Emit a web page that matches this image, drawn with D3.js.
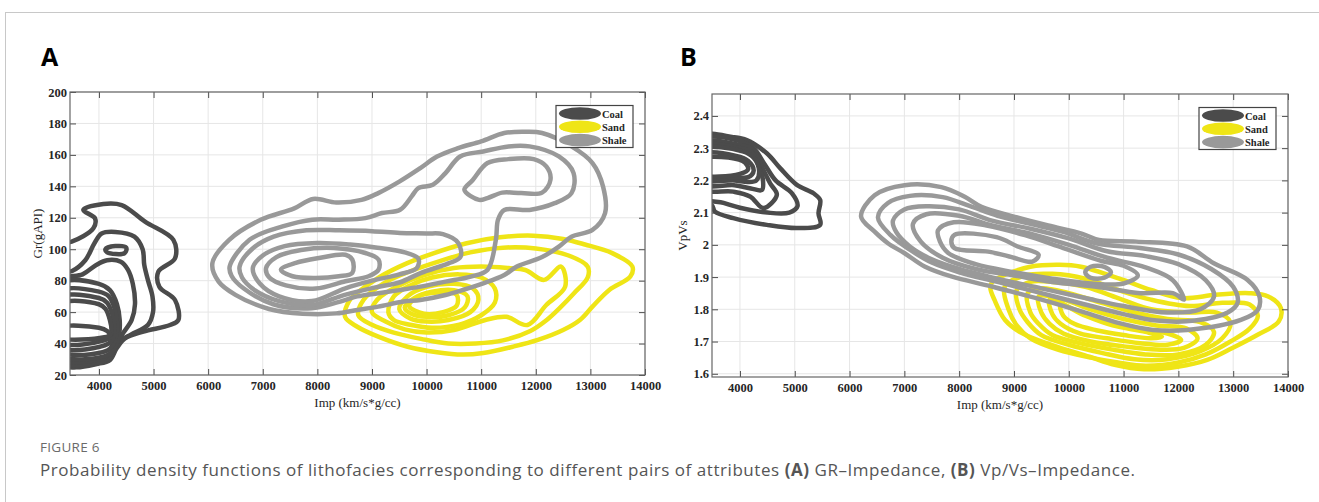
<!DOCTYPE html>
<html>
<head>
<meta charset="utf-8">
<script src="https://cdn.jsdelivr.net/npm/d3@7"></script>
<style>
  body { margin: 0; background: #fff; }
  .tick text { font-family: "Liberation Serif", serif; font-weight: bold; font-size: 12.5px; fill: #262626; }
</style>
</head>
<body>
<svg id="fig" width="1319" height="502"></svg>
<script>
// ---- data ----
const facies = ["Coal", "Sand", "Shale"]
const xTicks = [4000, 5000, 6000, 7000, 8000, 9000, 10000, 11000, 12000, 13000, 14000]
const yTicksA = [20, 40, 60, 80, 100, 120, 140, 160, 180, 200]
const yTicksB = [1.6, 1.7, 1.8, 1.9, 2.0, 2.1, 2.2, 2.3, 2.4]

// panel A: Impedance vs GR, each ring is a list of [imp, gr]
const coalA = [
  [[3300,104],[3501,104.8],[3898,113.3],[3928,119.6],[3714,125],[4081,128.8],[4416,128.1],[4844,117.5],[5363,105.9],[5393,94.2],[5088,85.7],[5106,76.2],[5393,67.7],[5454,55],[5302,51.8],[4814,47.6],[4477,43.3],[4325,37],[4203,29.6],[4020,27.4],[3300,27.4]],
  [[3300,85],[3500,86],[3750,93],[3920,104],[4050,110],[4300,111],[4650,108],[4800,100],[4830,90],[4900,80],[4980,70],[4990,60],[4900,52],[4600,46],[4400,42],[4280,36],[4150,30],[3300,29]],
  [[3300,80],[3700,84],[3950,90],[4150,93],[4400,92],[4530,87],[4620,78],[4660,65],[4600,55],[4450,47],[4350,42],[4250,35],[4100,31],[3300,31]],
  [[4120,100],[4300,102],[4500,101],[4470,97.5],[4150,98]],
  [[3300,78],[4000,78],[4200,74],[4330,65],[4380,55],[4370,46],[4300,38],[4180,33],[3300,33]],
  [[3300,73],[4000,73],[4180,70],[4290,62],[4330,53],[4320,46],[4250,39],[4150,35.5],[3300,35.5]],
  [[3300,69],[4000,69],[4150,66],[4250,58],[4280,50],[4260,44],[4180,40],[3300,38]],
  [[3300,65],[4000,65],[4120,62],[4200,55],[4230,48],[4200,44],[4100,42],[3300,41]],
  [[3300,50],[4000,50],[4150,48],[4200,45.5],[4100,44],[3300,44]]
]
const sandA = [
  [[8507,57],[8580,67],[8721,72],[9148,82.5],[9636,91],[10124,97.4],[10734,103.8],[11345,107.6],[11955,108.6],[12500,106.5],[12900,103],[13400,97.5],[13769,89],[13731,82.6],[13346,74.1],[13038,63.5],[12808,55],[12500,48.6],[12038,42.3],[11577,38],[11038,34],[10654,33],[10192,34.5],[9654,38],[9115,44.4],[8731,50.7]],
  [[8750,58],[8850,68],[9200,78],[9700,86],[10200,92],[10800,98],[11400,101],[12000,100.5],[12600,96],[12950,89],[12950,82],[12700,72],[12450,63],[12200,55],[11900,48],[11400,42],[10900,40],[10400,40],[9900,43],[9400,47],[9000,52]],
  [[9000,60],[9100,68],[9500,77],[10000,84],[10500,88],[11000,89],[11500,88],[11808,86.8],[12154,80.5],[12462,89],[12538,76.2],[12192,64.5],[11846,51.8],[11462,57],[11077,55],[10500,48.6],[10000,47],[9600,49],[9250,54]],
  [[9300,60],[9400,70],[9700,77],[10100,82],[10600,84],[11000,82],[11250,75],[11250,66],[11000,58],[10600,52],[10100,50],[9700,52],[9400,55]],
  [[9500,62],[9650,70],[10000,76],[10500,78],[10850,75],[10950,68],[10800,60],[10400,55],[10000,54],[9700,56]],
  [[9600,63],[9780,69],[10100,73],[10500,74],[10750,70],[10700,63],[10400,58],[10000,57],[9720,59]],
  [[9680,64],[9850,70],[10200,72.5],[10550,71],[10550,64],[10300,60],[9950,59]]
]
const shaleA = [
  [[6077,91],[6385,106],[6962,118.7],[7577,126],[7923,132],[8346,129.7],[8808,131.4],[9115,135.7],[9500,143],[9885,151.6],[10192,159],[10577,164.3],[11000,168.6],[11423,173.9],[11808,174.7],[12115,173.9],[12654,165.4],[13038,154.8],[13231,140],[13269,123],[13038,112.3],[12654,108],[12423,101.7],[12115,95],[11654,89],[11423,83.6],[11038,78.3],[10654,74],[10346,70.9],[9885,67.7],[9577,66.7],[9115,63.5],[8731,61.4],[8346,59.2],[7731,59],[7115,62],[6500,71],[6192,79.4]],
  [[6394,89],[6758,106],[7364,114.5],[7909,118.8],[8394,118.8],[8879,119.8],[9182,123],[9515,125.1],[9727,133.6],[9848,138.9],[10115,141],[10346,148.4],[10615,159],[11038,162.2],[11500,165.4],[11885,165.4],[12423,159],[12692,148.4],[12654,135.7],[12346,129.3],[11885,125],[11423,125],[11308,118.7],[11269,106],[11115,86.8],[10808,82.6],[10346,79.4],[9885,76.2],[9500,74],[9115,72],[8731,70],[8346,66],[7900,62.5],[7192,65],[6654,75],[6430,83]],
  [[10692,137.8],[10846,144],[11115,154.8],[11500,157.3],[11962,157.3],[12192,152.7],[12269,144.2],[12115,136],[11731,135.7],[11385,136],[11115,132.5],[10962,131.4]],
  [[6576,89],[6800,100],[7200,108],[7800,112],[8400,112],[9000,111.5],[9514,110.3],[10000,110],[10300,109.6],[10580,104],[10620,95],[10400,91],[9900,85],[9514,79],[9100,76],[8500,71],[7900,64.5],[7300,67],[6850,74],[6620,82]],
  [[6818,88],[7000,96],[7400,102],[8000,104],[8600,103],[9100,101],[9600,98],[9850,94],[9820,88],[9500,84],[9000,80],[8500,75],[7900,67],[7300,70],[6950,78]],
  [[7061,88],[7250,95],[7700,99.5],[8300,100.8],[8879,97.6],[9121,93.4],[9121,87],[8939,82.8],[8515,79.6],[7970,75],[7424,77],[7120,82]],
  [[7333,87],[7606,91.3],[8030,94.4],[8515,96.5],[8640,93.4],[8640,85],[8394,82.8],[7970,81.7],[7545,82.8]]
]

// panel B: Impedance vs Vp/Vs
const coalB = [
  [[3300,2.12],[3484,2.124],[3545,2.103],[3879,2.083],[4490,2.062],[5038,2.052],[5464,2.062],[5433,2.098],[5464,2.139],[5342,2.16],[5038,2.186],[4733,2.238],[4490,2.284],[4124,2.325],[3879,2.334],[3300,2.336]],
  [[3300,2.15],[3700,2.13],[4000,2.115],[4500,2.1],[4900,2.1],[5050,2.12],[4950,2.16],[4650,2.2],[4450,2.25],[4250,2.3],[4000,2.322],[3300,2.326]],
  [[3300,2.175],[3879,2.165],[4185,2.15],[4428,2.114],[4673,2.155],[4550,2.191],[4428,2.232],[4245,2.294],[4000,2.31],[3300,2.315]],
  [[3300,2.19],[3900,2.185],[4200,2.175],[4400,2.17],[4420,2.2],[4330,2.25],[4200,2.29],[3950,2.302],[3300,2.305]],
  [[3300,2.205],[3900,2.2],[4150,2.195],[4300,2.2],[4350,2.23],[4250,2.27],[4050,2.29],[3300,2.295]],
  [[3300,2.215],[3900,2.21],[4150,2.21],[4250,2.23],[4150,2.26],[3950,2.275],[3300,2.28]],
  [[3300,2.22],[4000,2.22],[4150,2.235],[4050,2.26],[3300,2.265]]
]
const sandB = [
  [[8569,1.866],[8645,1.829],[8837,1.767],[9145,1.726],[9684,1.69],[10375,1.653],[10836,1.628],[11373,1.614],[11987,1.622],[12525,1.643],[12986,1.68],[13446,1.721],[13830,1.762],[13869,1.804],[13639,1.84],[13293,1.85],[12679,1.845],[12065,1.835],[11500,1.86],[10990,1.891],[10222,1.932],[9834,1.938],[9298,1.932],[8914,1.912],[8609,1.886]],
  [[8830,1.87],[8900,1.8],[9050,1.75],[9300,1.71],[9800,1.675],[10400,1.65],[10900,1.635],[11400,1.625],[12000,1.635],[12500,1.66],[12950,1.7],[13300,1.74],[13450,1.78],[13300,1.815],[12800,1.82],[12200,1.81],[11500,1.83],[10900,1.86],[10300,1.895],[9700,1.91],[9200,1.905]],
  [[9050,1.86],[9100,1.8],[9250,1.76],[9500,1.72],[10000,1.69],[10600,1.665],[11200,1.645],[11800,1.645],[12400,1.67],[12800,1.71],[12950,1.76],[12700,1.79],[12200,1.79],[11500,1.8],[10900,1.835],[10300,1.87],[9700,1.885],[9300,1.885]],
  [[9250,1.85],[9300,1.79],[9450,1.755],[9700,1.72],[10200,1.695],[10800,1.675],[11400,1.66],[12000,1.66],[12500,1.69],[12650,1.73],[12400,1.76],[11800,1.77],[11200,1.79],[10600,1.82],[10000,1.85],[9500,1.865]],
  [[9450,1.84],[9500,1.79],[9650,1.755],[9900,1.725],[10400,1.7],[11000,1.685],[11600,1.675],[12100,1.68],[12350,1.71],[12150,1.74],[11600,1.75],[11000,1.77],[10400,1.8],[9900,1.83]],
  [[9650,1.83],[9700,1.785],[9850,1.755],[10200,1.725],[10700,1.71],[11300,1.695],[11800,1.69],[12050,1.705],[11800,1.725],[11200,1.74],[10600,1.765],[10100,1.8]],
  [[9850,1.815],[9900,1.78],[10100,1.755],[10500,1.735],[11000,1.72],[11500,1.71],[11700,1.715],[11400,1.73],[10800,1.75],[10300,1.78]]
]
const shaleB = [
  [[6210,2.088],[6457,2.154],[7005,2.185],[7675,2.179],[8101,2.149],[8406,2.118],[9015,2.087],[9624,2.06],[10233,2.035],[10552,2.015],[11230,2.01],[12156,1.995],[12647,1.943],[13263,1.891],[13479,1.84],[13448,1.798],[13140,1.767],[12156,1.736],[11538,1.736],[10921,1.757],[10300,1.79],[9502,1.83],[8588,1.871],[7857,1.902],[7370,1.933],[7005,1.974],[6700,2.005],[6457,2.041]],
  [[6518,2.085],[6700,2.13],[7100,2.152],[7700,2.148],[8200,2.12],[8700,2.09],[9300,2.065],[9900,2.04],[10500,2.005],[11300,1.99],[12000,1.97],[12600,1.925],[13000,1.87],[13080,1.82],[12900,1.79],[12300,1.765],[11600,1.765],[11000,1.785],[10300,1.815],[9500,1.85],[8700,1.885],[8000,1.915],[7500,1.945],[7100,1.985],[6750,2.03]],
  [[6792,2.075],[7000,2.11],[7400,2.12],[8000,2.11],[8600,2.075],[9300,2.05],[10000,2.02],[10700,1.98],[11400,1.965],[12000,1.94],[12500,1.89],[12650,1.84],[12400,1.8],[11800,1.79],[11000,1.81],[10300,1.835],[9500,1.865],[8700,1.895],[8000,1.925],[7500,1.955],[7100,1.995],[6850,2.04]],
  [[7157,2.065],[7400,2.095],[8000,2.09],[8600,2.06],[9300,2.035],[10000,2.0],[10700,1.96],[11400,1.93],[11900,1.89],[12100,1.83],[11900,1.85],[11300,1.85],[10500,1.87],[9700,1.885],[9000,1.905],[8300,1.925],[7700,1.96],[7300,2.01]],
  [[7614,2.045],[7900,2.07],[8500,2.06],[9200,2.03],[9900,1.99],[10600,1.95],[11000,1.935],[11260,1.905],[11000,1.88],[10400,1.88],[9700,1.895],[9000,1.915],[8300,1.94],[7800,1.975],[7650,2.01]],
  [[7857,2.01],[7914,2.031],[8682,2.024],[9066,1.995],[9450,1.969],[9336,1.948],[8914,1.964],[8530,1.979],[7914,1.99]],
  [[10300,1.915],[10400,1.932],[10650,1.932],[10770,1.915],[10650,1.898],[10400,1.898]]
]

const colors = { Coal: "#4b4b4b", Sand: "#efe516", Shale: "#999999" }

const svg = d3.select("#fig")

// card border
svg.append("rect")
  .attr("x", 5.5).attr("y", 12.5)
  .attr("width", 1340).attr("height", 600)
  .attr("fill", "none").attr("stroke", "#c8c8c8")

function draw_panel(cfg){
  const g = svg.append("g")
  const x = d3.scaleLinear().domain(cfg.xDomain).range([cfg.left, cfg.right])
  const y = d3.scaleLinear().domain(cfg.yDomain).range([cfg.bottom, cfg.top])

  // grid
  g.append("g").selectAll("line").data(xTicks).join("line")
    .attr("x1", d => x(d)).attr("x2", d => x(d))
    .attr("y1", cfg.top).attr("y2", cfg.bottom)
    .attr("stroke", "#e6e6e6")
  g.append("g").selectAll("line").data(cfg.yTicks).join("line")
    .attr("x1", cfg.left).attr("x2", cfg.right)
    .attr("y1", d => y(d)).attr("y2", d => y(d))
    .attr("stroke", "#e6e6e6")

  // contours
  const clipId = "clip" + cfg.name
  svg.append("clipPath").attr("id", clipId).append("rect")
    .attr("x", cfg.left).attr("y", cfg.top)
    .attr("width", cfg.right - cfg.left).attr("height", cfg.bottom - cfg.top)

  const line = d3.line()
    .x(d => x(d[0])).y(d => y(d[1]))
    .curve(d3.curveCatmullRomClosed.alpha(0.5))

  const cg = g.append("g").attr("clip-path", `url(#${clipId})`)
  cfg.layers.forEach(([name, rings]) => {
    cg.append("g").selectAll("path").data(rings).join("path")
      .attr("d", line)
      .attr("fill", "none")
      .attr("stroke", colors[name])
      .attr("stroke-width", 4.5)
      .attr("stroke-linejoin", "round")
  })

  // axes, ticks pointing inwards like matlab
  g.append("g").attr("transform", `translate(0,${cfg.bottom})`)
    .call(d3.axisBottom(x).tickValues(xTicks).tickSizeInner(-6).tickSizeOuter(0).tickPadding(6).tickFormat(d3.format("d")))
  g.append("g").attr("transform", `translate(0,${cfg.top})`)
    .call(d3.axisTop(x).tickValues(xTicks).tickSizeInner(-6).tickSizeOuter(0).tickFormat(""))
  g.append("g").attr("transform", `translate(${cfg.left},0)`)
    .call(d3.axisLeft(y).tickValues(cfg.yTicks).tickSizeInner(-6).tickSizeOuter(0).tickPadding(3).tickFormat(cfg.fmt))
  g.append("g").attr("transform", `translate(${cfg.right},0)`)
    .call(d3.axisRight(y).tickValues(cfg.yTicks).tickSizeInner(-6).tickSizeOuter(0).tickFormat(""))
  g.selectAll(".domain").remove()
  g.selectAll(".tick line").attr("stroke", "#4d4d4d")

  g.append("rect")
    .attr("x", cfg.left).attr("y", cfg.top)
    .attr("width", cfg.right - cfg.left).attr("height", cfg.bottom - cfg.top)
    .attr("fill", "none").attr("stroke", "#666").attr("stroke-width", 1.2)

  // axis titles
  g.append("text")
    .attr("x", (cfg.left + cfg.right) / 2).attr("y", cfg.bottom + 32)
    .attr("text-anchor", "middle")
    .style("font-family", "Liberation Serif").style("font-size", "13px").style("fill", "#262626")
    .text("Imp (km/s*g/cc)")
  g.append("text")
    .attr("transform", `translate(${cfg.ylabelX},${(cfg.top + cfg.bottom) / 2}) rotate(-90)`)
    .attr("text-anchor", "middle")
    .style("font-family", "Liberation Serif").style("font-size", "13px").style("fill", "#262626")
    .text(cfg.ylabel)

  // panel letter
  svg.append("text")
    .attr("x", cfg.letterX).attr("y", 66)
    .style("font-family", "Open Sans").style("font-weight", "bold").style("font-size", "25px")
    .text(cfg.name)

  // legend
  const lg = g.append("g").attr("transform", `translate(${cfg.legendX},${cfg.legendY})`)
  lg.append("rect").attr("width", 77).attr("height", 42)
    .attr("fill", "#fff").attr("stroke", "#444").attr("stroke-width", 1.2)
  facies.forEach((f, i) => {
    lg.append("ellipse")
      .attr("cx", 24).attr("cy", 8 + i * 13.3)
      .attr("rx", 21).attr("ry", 6.3)
      .attr("fill", colors[f])
    lg.append("text")
      .attr("x", 46).attr("y", 12 + i * 13.3)
      .style("font-family", "Liberation Serif").style("font-weight", "bold").style("font-size", "10.5px")
      .style("fill", "#262626")
      .text(f)
  })
}

draw_panel({
  name: "A", left: 70, right: 645, top: 92, bottom: 375,
  xDomain: [3470, 14000], yDomain: [20, 200], yTicks: yTicksA,
  fmt: d3.format("d"), ylabel: "Gr(gAPI)", ylabelX: 42, letterX: 41,
  legendX: 556, legendY: 105.5,
  layers: [["Coal", coalA], ["Sand", sandA], ["Shale", shaleA]]
})

draw_panel({
  name: "B", left: 712, right: 1288, top: 94, bottom: 377,
  xDomain: [3490, 14000], yDomain: [1.59, 2.468], yTicks: yTicksB,
  fmt: d => String(+d.toFixed(1)), ylabel: "VpVs", ylabelX: 687, letterX: 680,
  legendX: 1199, legendY: 107.5,
  layers: [["Coal", coalB], ["Sand", sandB], ["Shale", shaleB]]
})

// caption
svg.append("text")
  .attr("x", 40).attr("y", 452)
  .style("font-family", "Open Sans").style("font-size", "13.5px").style("fill", "#6a6a6a")
  .style("letter-spacing", "0.3px")
  .text("FIGURE 6")

const cap = svg.append("text")
  .attr("x", 40).attr("y", 476)
  .style("font-family", "Open Sans").style("font-size", "17px").style("fill", "#555")
  .style("letter-spacing", "0.55px")
cap.append("tspan").text("Probability density functions of lithofacies corresponding to different pairs of attributes ")
cap.append("tspan").style("font-weight", "bold").text("(A)")
cap.append("tspan").text(" GR\u2013Impedance, ")
cap.append("tspan").style("font-weight", "bold").text("(B)")
cap.append("tspan").text(" Vp/Vs\u2013Impedance.")
</script>
</body>
</html>
